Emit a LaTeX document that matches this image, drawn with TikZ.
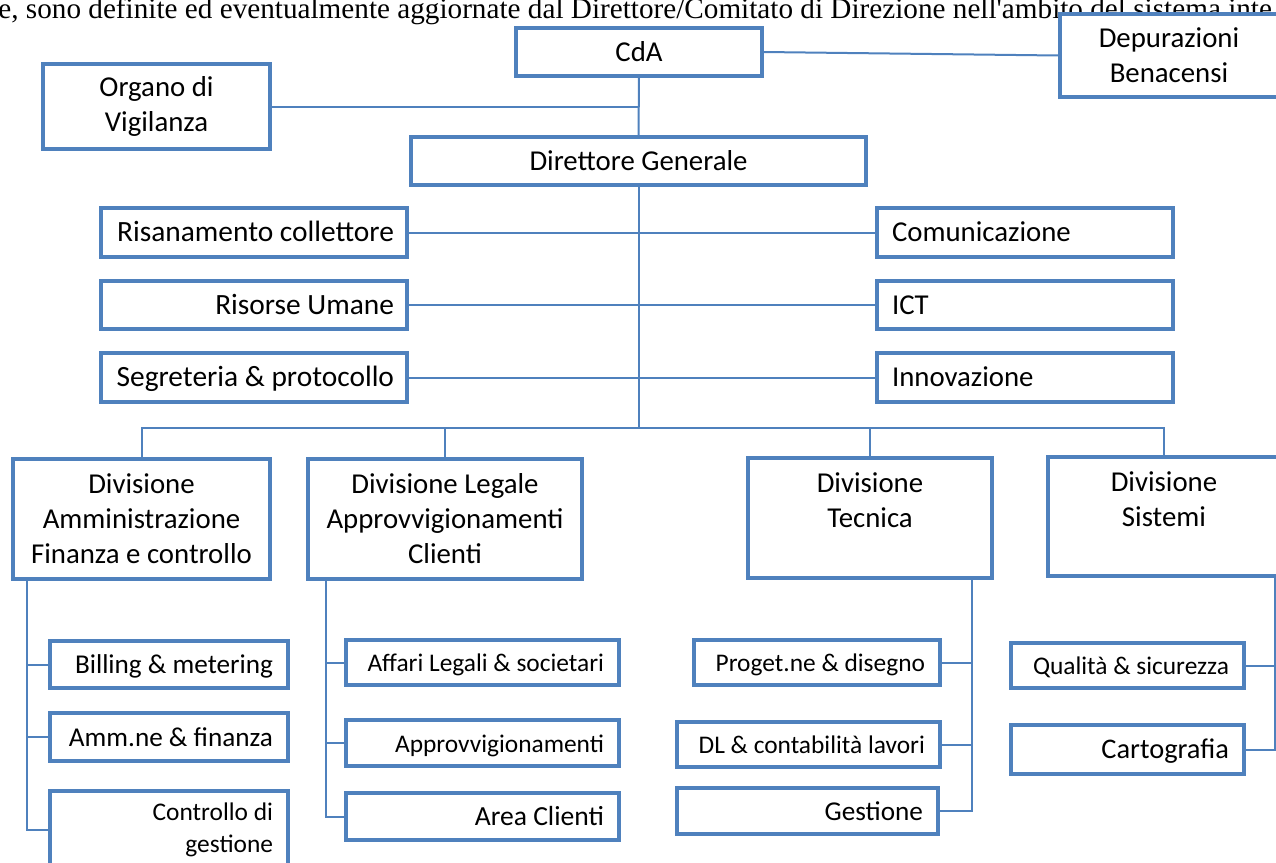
\documentclass[tikz,border=0pt]{standalone}
\usepackage{fontspec}
\setmainfont{Carlito}
\newfontfamily\serifbody{Liberation Serif}
\usetikzlibrary{calc}
\definecolor{orgblue}{RGB}{79,129,189}

\begin{document}
\begin{tikzpicture}[x=0.5pt,y=-0.5pt,
		unit/.style={draw=orgblue,line width=1.6pt,fill=white,inner xsep=7.5pt,inner ysep=0pt,font=\fontsize{14.4}{17.5}\selectfont,align=center},
		oneline/.style={text height=11pt,text depth=2pt},
		sideunit/.style={unit,oneline,inner xsep=6.5pt,text width=140pt,font=\fontsize{14.7}{17}\selectfont},
		subunit/.style={unit,font=\fontsize{12.7}{16}\selectfont,align=flush right},
		link/.style={draw=orgblue,line width=1pt}]
		\useasboundingbox (0,0) rectangle (1276,863);
		\node[anchor=base west,inner sep=0pt,font=\serifbody\fontsize{14.6}{17}\selectfont] (intro) at (-2,18) {e, sono definite ed eventualmente aggiornate dal Direttore/Comitato di Direzione nell'ambito del sistema inte};
		\node[unit,minimum width=123pt,minimum height=24pt] (cda) at (639,52) {CdA};
		\node[unit,minimum width=109pt,minimum height=41.5pt] (depur) at (1169,55.5) {Depurazioni\\Benacensi};
		\node[unit,minimum width=113.5pt,minimum height=42.5pt] (organo) at (156.5,106.5) {Organo di\\Vigilanza};
		\node[unit,minimum width=227.5pt,minimum height=24pt] (dg) at (638.5,161) {Direttore Generale};
		\node[sideunit,align=flush right,minimum height=24.5pt] (risan) at (254,232.5) {Risanamento collettore};
		\node[sideunit,align=flush right,minimum height=24pt] (risorse) at (254,305) {Risorse Umane};
		\node[sideunit,align=flush right,minimum height=24.5pt] (segret) at (254,377.5) {Segreteria \& protocollo};
		\node[sideunit,align=flush left,inner xsep=7.5pt,text width=133pt,minimum height=24.5pt,font=\fontsize{14.4}{17}\selectfont] (comun) at (1025,232.5) {Comunicazione};
		\node[sideunit,align=flush left,inner xsep=7.5pt,text width=133pt,minimum height=24pt,font=\fontsize{14.4}{17}\selectfont] (ict) at (1025,305) {ICT};
		\node[sideunit,align=flush left,inner xsep=7.5pt,text width=133pt,minimum height=24.5pt,font=\fontsize{14.4}{17}\selectfont] (innov) at (1025,377.5) {Innovazione};
		\node[unit,minimum width=128.5pt,minimum height=60pt] (divamm) at (141.5,519) {Divisione\\Amministrazione\\Finanza e controllo};
		\node[unit,minimum width=137pt,minimum height=60pt] (divleg) at (445,519) {Divisione Legale\\Approvvigionamenti\\Clienti};
		\node[unit,minimum width=122pt,minimum height=60pt] (divtec) at (870,518) {Divisione\\Tecnica\\\mbox{}};
		\node[unit,minimum width=116pt,minimum height=59.5pt] (divsis) at (1164,516.5) {Divisione\\Sistemi\\\mbox{}};
		\node[subunit,oneline,text width=104pt,minimum height=23.5pt,font=\fontsize{13.6}{16}\selectfont] (bill) at (169,664.5) {Billing \& metering};
		\node[subunit,oneline,text width=104pt,minimum height=24pt,font=\fontsize{13.6}{16}\selectfont] (ammfin) at (169,737) {Amm.ne \& finanza};
		\node[subunit,text width=104pt,minimum height=39pt] (contr) at (169,830) {Controllo di\\gestione};
		\node[subunit,oneline,text width=121.5pt,minimum height=22.5pt] (affari) at (482.5,662.5) {Affari Legali \& societari};
		\node[subunit,oneline,text width=121.5pt,minimum height=23pt] (approv) at (482.5,743) {Approvvigionamenti};
		\node[subunit,oneline,text width=121.5pt,minimum height=23.5pt,font=\fontsize{13.8}{16}\selectfont] (area) at (482.5,816.5) {Area Clienti};
		\node[subunit,oneline,text width=108pt,minimum height=22.5pt] (proget) at (817,662.5) {Proget.ne \& disegno};
		\node[subunit,oneline,text width=116.5pt,minimum height=22.5pt] (dl) at (808.5,744.5) {DL \& contabilità lavori};
		\node[subunit,oneline,text width=115.5pt,minimum height=23pt,font=\fontsize{13.6}{16}\selectfont] (gest) at (807.5,811) {Gestione};
		\node[subunit,oneline,text width=101.5pt,minimum height=22.5pt] (qual) at (1127.5,665.5) {Qualità \& sicurezza};
		\node[subunit,oneline,text width=101.5pt,minimum height=24.5pt,font=\fontsize{14.2}{16}\selectfont] (carto) at (1127.5,749.5) {Cartografia};
		\coordinate (hub) at (638.5,428);
		\draw[link] (cda.south) -- (dg.north);
		\draw[link] (cda.east) -- (depur.west);
		\draw[link] (organo.east) -- (organo.east -| cda.south);
		\draw[link] (dg.south) -- (hub);
		\draw[link] (risan.east) -- (comun.west);
		\draw[link] (risorse.east) -- (ict.west);
		\draw[link] (segret.east) -- (innov.west);
		\draw[link] (divamm.north) |- (hub) -| (divsis.north);
		\draw[link] (divleg.north) -- (divleg.north |- hub);
		\draw[link] (divtec.north) -- (divtec.north |- hub);
		\foreach \u in {bill,ammfin,contr}
			\draw[link] ([xshift=8pt]divamm.south west) |- (\u.west);
		\foreach \u in {affari,approv,area}
			\draw[link] ([xshift=10pt]divleg.south west) |- (\u.west);
		\foreach \u in {proget,dl,gest}
			\draw[link] ([xshift=-11pt]divtec.south east) |- (\u.east);
		\foreach \u in {qual,carto}
			\draw[link] ([xshift=-3.5pt]divsis.south east) |- (\u.east);
	\end{tikzpicture}
\end{document}
